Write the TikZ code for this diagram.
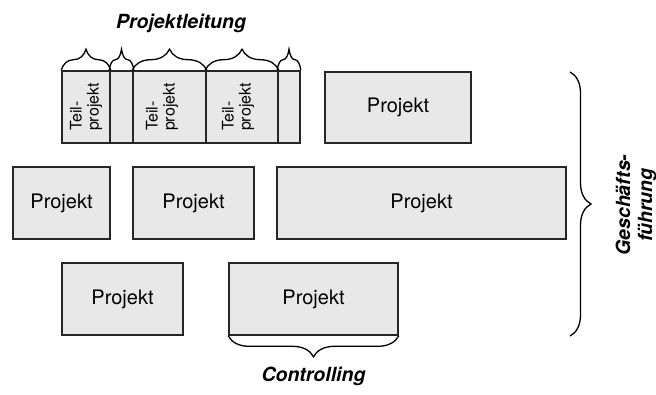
\documentclass[tikz,border=0pt]{standalone}
\usepackage{fontspec}
\setmainfont{TeX Gyre Heros}
\usepackage{tikz}
\usetikzlibrary{positioning,decorations.pathreplacing}

\definecolor{kastengrau}{HTML}{E8E8E8}
\tikzset{
  kasten/.style={draw=black!85, fill=kastengrau, line width=1.6pt, rectangle,
    inner sep=0pt, font=\fontsize{20}{23}\selectfont},
  klammer/.style={decorate, decoration={brace, amplitude=#1}, line width=1.3pt},
  klammer/.default=21pt,
  etikett/.style={font=\fontsize{19.5}{22}\selectfont\bfseries\itshape, align=center},
  teil/.style={rotate=90, align=left, font=\fontsize{16}{17}\selectfont}
}

\begin{document}
\begin{tikzpicture}[x=1pt, y=-1pt]
    \useasboundingbox (0,0) rectangle (656,394);

    % Teilprojekte
    \node[kasten, minimum width=48pt, minimum height=72pt] (tp1) at (86,107) {};
    \node[kasten, minimum width=23pt, minimum height=72pt] (tp2) at (121.5,107) {};
    \node[kasten, minimum width=73pt, minimum height=72pt] (tp3) at (169.5,107) {};
    \node[kasten, minimum width=72pt, minimum height=72pt] (tp4) at (242,107) {};
    \node[kasten, minimum width=22pt, minimum height=72pt] (tp5) at (289,107) {};
    \node[teil] (t1) at (86,107) {Teil-\\projekt};
    \node[teil] (t3) at (162,107) {Teil-\\projekt};
    \node[teil] (t4) at (238,107) {Teil-\\projekt};

    % Projekte
    \node[kasten, minimum width=146pt, minimum height=71pt] (pa) at (398,107.5) {Projekt};
    \node[kasten, minimum width=97pt, minimum height=72pt] (pb) at (61.5,203) {Projekt};
    \node[kasten, minimum width=121pt, minimum height=72pt] (pc) at (193.5,203) {Projekt};
    \node[kasten, minimum width=289pt, minimum height=72pt] (pd) at (421.5,203) {Projekt};
    \node[kasten, minimum width=121pt, minimum height=72pt] (pe) at (122.5,299) {Projekt};
    \node[kasten, minimum width=169pt, minimum height=72pt] (pf) at (313.5,299) {Projekt};

    % Klammern
    \foreach \t in {tp1,tp2,tp3,tp4,tp5}
        \draw[klammer] (\t.north west) -- (\t.north east);
    \draw[klammer] (pf.south east) -- (pf.south west);
    \coordinate (go) at (570,72);
    \coordinate (gu) at (570,336);
    \draw[klammer] (go) -- (gu);

    \node[etikett] (leitung) at (181,23) {Projektleitung};
    \node[etikett] (contr) at (313.5,376) {Controlling};
    \node[etikett, rotate=90] (gf) at (636,205) {Geschäfts-\\führung};

\end{tikzpicture}
\end{document}
